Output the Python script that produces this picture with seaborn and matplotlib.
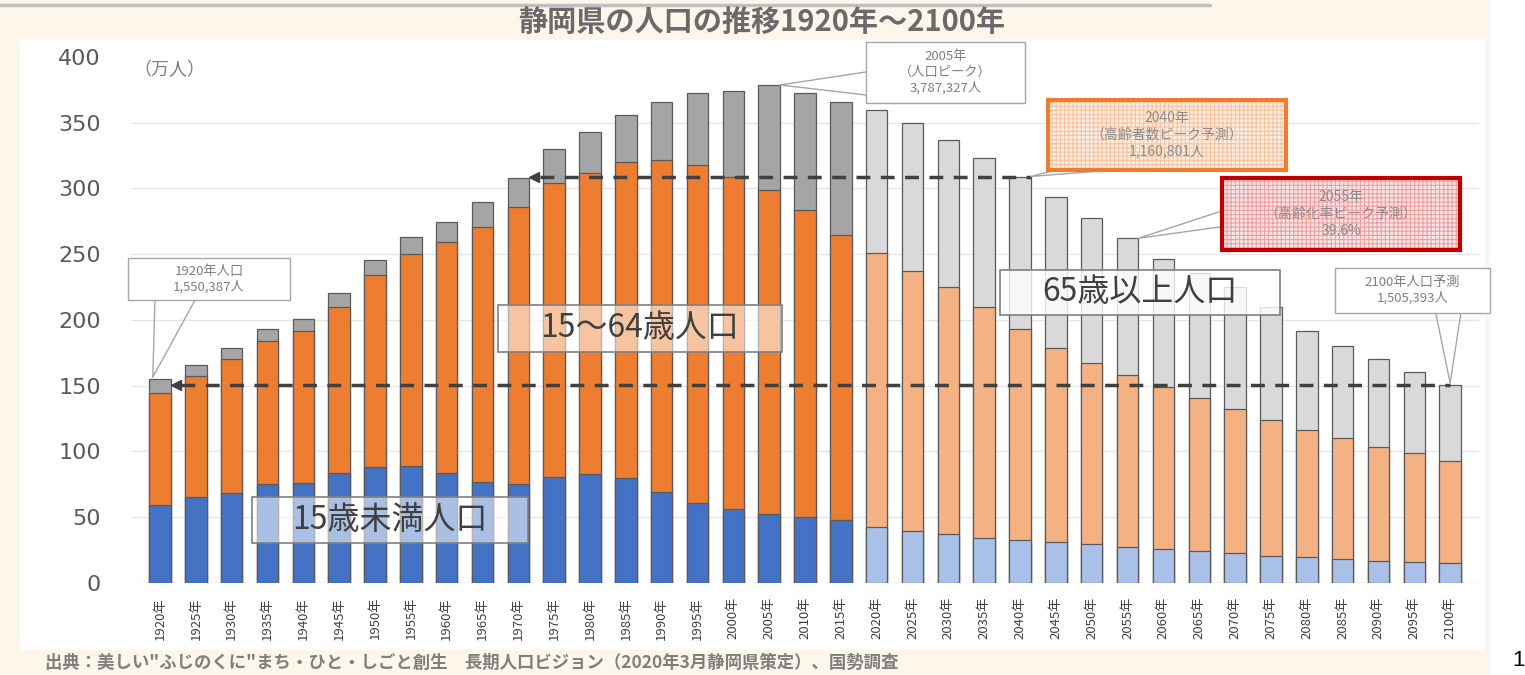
import matplotlib
matplotlib.use("Agg")
import matplotlib.pyplot as plt
import seaborn as sns
import pandas as pd
from matplotlib.patches import Rectangle
from matplotlib.lines import Line2D

# ---- data (万人) ----
years = list(range(1920, 2101, 5))
under15 = [59.3, 65.6, 68.7, 75.3, 76.3, 83.6, 88.5, 89.0, 83.9, 77.0,
           75.3, 80.8, 83.0, 80.0, 69.5, 61.0, 56.3, 52.5, 50.2, 48.0,
           42.8, 39.8, 37.0, 34.5, 32.7, 31.0, 29.4, 27.6, 25.9, 24.3,
           22.6, 20.8, 19.8, 18.3, 16.7, 16.0, 15.2]
age15_64 = [85.2, 91.9, 101.3, 108.7, 115.7, 126.4, 145.5, 161.0, 175.1, 194.0,
            210.7, 223.2, 229.0, 240.0, 252.5, 257.0, 252.7, 246.5, 233.4, 216.6,
            207.9, 197.2, 187.8, 175.5, 160.3, 148.0, 138.1, 130.7, 123.4, 116.1,
            109.4, 103.2, 96.5, 91.7, 86.7, 82.9, 77.6]
over65 = [10.5, 8.5, 9.0, 9.0, 9.0, 10.5, 11.6, 13.0, 15.5, 19.0,
          21.7, 25.8, 31.0, 36.0, 44.0, 54.4, 65.4, 79.7, 88.8, 101.4,
          109.3, 113.0, 112.2, 113.0, 116.1, 114.5, 109.8, 103.8, 96.7, 95.6,
          93.0, 86.0, 75.3, 70.0, 66.6, 61.6, 57.7]
last_actual_year = 2015

year_labels = [f"{y}年" for y in years]
period = ["実績" if y <= last_actual_year else "推計" for y in years]

df = pd.DataFrame({"年": year_labels, "区分": period,
                   "15歳未満": under15, "15～64歳": age15_64, "65歳以上": over65})
df["15～64歳累計"] = df["15歳未満"] + df["15～64歳"]
df["総人口"] = df["15～64歳累計"] + df["65歳以上"]
total = df["総人口"].tolist()

# ---- style ----
sns.set_style("white")
plt.rcParams["font.family"] = ["Noto Sans CJK JP", "DejaVu Sans"]
plt.rcParams["hatch.linewidth"] = 0.8

CREAM = "#FCF7EA"
TEXT_GRAY = "#595959"

fig = plt.figure(figsize=(15.25, 6.75), dpi=100)
fig.patch.set_facecolor("white")
W, H = 1525, 675

# page background and white panel
fig.patches.append(Rectangle((0, 0), 1490 / W, 1, transform=fig.transFigure,
                             facecolor=CREAM, edgecolor="none", zorder=-10))
fig.patches.append(Rectangle((20 / W, 1 - 650 / H), 1465 / W, 610 / H,
                             transform=fig.transFigure, facecolor="white",
                             edgecolor="none", zorder=-9))
fig.add_artist(Line2D([0, 1210 / W], [1 - 5 / H, 1 - 5 / H], transform=fig.transFigure,
                      color="#BFBFBF", lw=2.5))

ax = fig.add_axes([0.0861, 0.1363, 0.8836, 0.7793])
ax.set_facecolor("none")

layers = [
    ("総人口", {"実績": "#A5A5A5", "推計": "#D9D9D9"}),
    ("15～64歳累計", {"実績": "#ED7D31", "推計": "#F4B183"}),
    ("15歳未満", {"実績": "#4472C4", "推計": "#A9C0E8"}),
]
for col, pal in layers:
    sns.barplot(data=df, x="年", y=col, hue="区分", palette=pal, dodge=False,
                width=0.6, saturation=1, errorbar=None, legend=False,
                edgecolor="#5A5A5A", linewidth=0.9, ax=ax, zorder=2)

ax.set_xlim(-0.8, 36.8)
ax.set_ylim(0, 400)
ax.set_xlabel("")
ax.set_ylabel("")
yticks = list(range(0, 401, 50))
ax.set_yticks(yticks)
for v in yticks[1:-1]:
    ax.axhline(v, color="#E6E6E6", lw=1, zorder=0)
ax.axhline(0, color="#D9D9D9", lw=1, zorder=1)
for s in ax.spines.values():
    s.set_visible(False)

ax.tick_params(axis="y", length=0, pad=22, labelsize=16, labelcolor=TEXT_GRAY)
for t in ax.get_yticklabels():
    t.set_fontfamily("DejaVu Sans")
ax.tick_params(axis="x", length=0, pad=10, labelsize=9.5, labelcolor="#404040",
               labelrotation=90)

ax.text(-0.75, 390, "（万人）", ha="left", va="center", fontsize=13, color="#7F7F7F")

# ---- reference dashed lines ----
def level_line(x_tip, x_end, y):
    ax.plot([x_tip + 0.15, x_end], [y, y], color="#404040", lw=2.5,
            dashes=(4, 3), zorder=4)
    ax.plot([x_tip], [y], marker="<", markersize=7, color="#404040", zorder=4)

level_line(10.45, 24.3, total[24])
level_line(0.45, 36.0, total[36])

# ---- callouts ----
def callout(box, text, tip, base, fs, border="#A6A6A6", lw=1.0,
            fill="white", hatch=None, hatch_color="none", text_color="#7F7F7F"):
    x0, y0, x1, y1 = box
    ax.add_line(Line2D([base[0][0], tip[0], base[1][0]],
                       [base[0][1], tip[1], base[1][1]],
                       color="#A6A6A6", lw=1.0, zorder=5, clip_on=False))
    ax.add_patch(Rectangle((x0, y0), x1 - x0, y1 - y0, facecolor=fill,
                           edgecolor=hatch_color, hatch=hatch, lw=0,
                           zorder=6, clip_on=False))
    ax.add_patch(Rectangle((x0, y0), x1 - x0, y1 - y0, fill=False,
                           edgecolor=border, lw=lw, zorder=7, clip_on=False))
    ax.text((x0 + x1) / 2, (y0 + y1) / 2, text, ha="center", va="center",
            fontsize=fs, color=text_color, linespacing=1.25, zorder=8,
            clip_on=False)

callout((-0.89, 215.2, 3.63, 247.1), "1920年人口\n1,550,387人",
        (-0.2, total[0] + 1.5), [(-0.14, 215.2), (0.98, 215.2)], 9.5)
callout((19.70, 365.0, 24.14, 411.4), "2005年\n（人口ピーク）\n3,787,327人",
        (17.3, total[17]), [(19.70, 388.6), (19.70, 371.1)], 9.5)
callout((24.78, 314.1, 31.43, 367.3), "2040年\n（高齢者数ピーク予測）\n1,160,801人",
        (24.3, total[24]), [(25.0, 314.1), (26.6, 314.1)], 10,
        border="#ED7D31", lw=3, fill="#FDEEE3", hatch="++++",
        hatch_color="#F6C4A2", text_color="#8C8C8C")
ratio_2055 = over65[27] / total[27] * 100
callout((29.64, 253.2, 36.28, 308.0), f"2055年\n（高齢化率ピーク予測）\n{ratio_2055:.1f}%",
        (27.3, total[27]), [(29.64, 283.0), (29.64, 271.0)], 10,
        border="#C00000", lw=3, fill="#FBE6E6", hatch="++++",
        hatch_color="#EDA0A0", text_color="#8C8C8C")
callout((32.79, 205.3, 37.12, 239.5), "2100年人口予測\n1,505,393人",
        (36.0, total[36] + 1.5), [(35.6, 205.3), (36.3, 205.3)], 9.5)

# ---- group labels ----
def group_label(box, text, alpha):
    x0, y0, x1, y1 = box
    ax.add_patch(Rectangle((x0, y0), x1 - x0, y1 - y0, facecolor="white",
                           alpha=alpha, edgecolor="none", zorder=9))
    ax.add_patch(Rectangle((x0, y0), x1 - x0, y1 - y0, fill=False,
                           edgecolor="#7F7F7F", lw=1.2, zorder=9))
    ax.text((x0 + x1) / 2, (y0 + y1) / 2, text, ha="center", va="center",
            fontsize=23, color="#404040", zorder=10)

group_label((2.57, 30.4, 10.27, 65.4), "15歳未満人口", 0.55)
group_label((9.43, 175.7, 17.36, 211.4), "15～64歳人口", 0.55)
group_label((23.44, 203.8, 31.26, 238.0), "65歳以上人口", 0.8)

# ---- title, source, page number ----
fig.text(762 / W, 1 - 22 / H, "静岡県の人口の推移1920年～2100年", ha="center",
         va="center", fontsize=21, color="#6A6A6A", fontweight="bold")
fig.text(45 / W, 1 - 663 / H,
         "出典：美しい\"ふじのくに\"まち・ひと・しごと創生　長期人口ビジョン（2020年3月静岡県策定）、国勢調査",
         ha="left", va="center", fontsize=12.5, color="#7F7F7F", fontweight="bold")
fig.text(1518 / W, 1 - 660 / H, "1", ha="center", va="center", fontsize=16,
         color="black", family="Liberation Sans")

fig.savefig("out.png", dpi=100, facecolor=fig.get_facecolor())
